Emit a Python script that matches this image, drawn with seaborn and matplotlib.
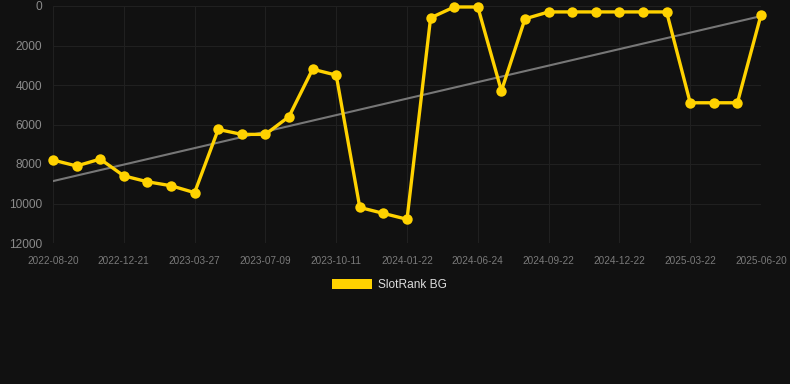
import matplotlib
matplotlib.use("Agg")
import matplotlib.pyplot as plt
import seaborn as sns
import numpy as np
import pandas as pd
from matplotlib.patches import Patch

# ---- data ----
tick_labels = ["2022-08-20", "2022-12-21", "2023-03-27", "2023-07-09", "2023-10-11",
               "2024-01-22", "2024-06-24", "2024-09-22", "2024-12-22", "2025-03-22",
               "2025-06-20"]
rank_values = [7800, 8100, 7750, 8600, 8900, 9100, 9450, 6250, 6500, 6500,
               5600, 3200, 3500, 10200, 10500, 10800, 600, 50, 50, 4300,
               650, 300, 300, 300, 300, 300, 300, 4900, 4900, 4900, 450]
series_name = "SlotRank BG"

df = pd.DataFrame({"idx": np.arange(len(rank_values)), "rank": rank_values})

sns.set_theme(style="dark")
plt.rcParams["font.family"] = ["Liberation Sans", "DejaVu Sans"]

BG = "#111111"
fig = plt.figure(figsize=(7.9, 3.84), dpi=100, facecolor=BG)
ax = fig.add_axes([53/790, 1-243/384, (761-53)/790, (243-6)/384])
ax.set_facecolor(BG)

# trend line (linear fit)
sns.regplot(data=df, x="idx", y="rank", scatter=False, ci=None, ax=ax,
            line_kws=dict(color="#777777", lw=1.5, zorder=2))
# main series
sns.lineplot(data=df, x="idx", y="rank", ax=ax, color="#FFD200", lw=2.4,
             marker="o", markersize=7.5, markeredgewidth=0, zorder=3,
             clip_on=False)

ax.set_xlim(0, len(rank_values)-1)
ax.set_ylim(12000, 0)
ax.set_xticks(np.arange(0, len(rank_values), 3))
ax.set_xticklabels(tick_labels)
ax.set_yticks(np.arange(0, 12001, 2000))
ax.set_xlabel("")
ax.set_ylabel("")

ax.grid(True, color="#202020", lw=0.8)
for s in ax.spines.values():
    s.set_visible(False)
ax.tick_params(axis="x", colors="#7a7a7a", labelsize=7.2, length=0, pad=9)
ax.tick_params(axis="y", colors="#8a8a8a", labelsize=8.6, length=0, pad=8)

handle = Patch(facecolor="#FFD200", edgecolor="none")
leg = fig.legend([handle], [series_name], loc="center", bbox_to_anchor=(0.4925, 1-285/384),
                 frameon=False, fontsize=8.6, handlelength=3.4, handleheight=0.95,
                 handletextpad=0.45)
for t in leg.get_texts():
    t.set_color("#dddddd")

fig.savefig("out.png", dpi=100, facecolor=BG)
